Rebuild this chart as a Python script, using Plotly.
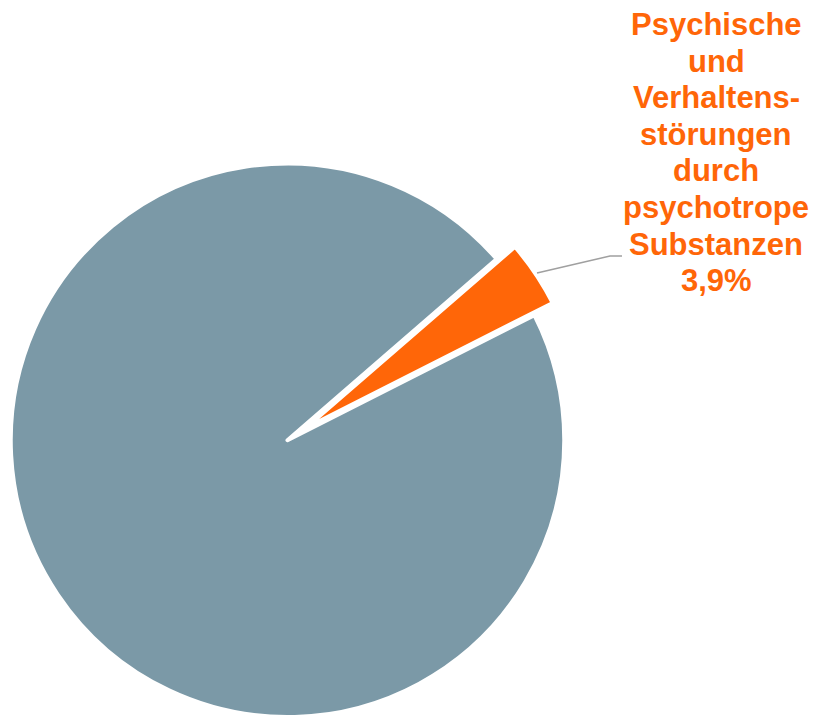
import math
import plotly.graph_objects as go

# ---- data ----
labels = ["Psychische und Verhaltensstörungen durch psychotrope Substanzen", "Sonstige"]
values = [3.9, 96.1]
label_lines = ["Psychische", "und", "Verhaltens-", "störungen", "durch",
               "psychotrope", "Substanzen", "3,9%"]

GRAY = "#7b99a7"
ORANGE = "#ff6608"
W, H = 816, 717

# ---- geometry (pixels) ----
cx, cy, r = 287.5, 440.25, 276.75
rotation = 49.1
mid_angle = 90 - rotation - values[0] / sum(values) * 360 / 2  # math angle of slice centre
shift = 22.0
cx2 = cx + shift * math.cos(math.radians(mid_angle))
cy2 = cy - shift * math.sin(math.radians(mid_angle))


def dom(cxp, cyp):
    return dict(x=[max(0, (cxp - r) / W), min(1, (cxp + r) / W)],
                y=[max(0, 1 - (cyp + r) / H), min(1, 1 - (cyp - r) / H)])


fig = go.Figure()
# base pie: grey slice, orange slot left empty
fig.add_trace(go.Pie(
    labels=labels, values=values, sort=False, direction="clockwise",
    rotation=rotation, domain=dom(cx, cy),
    marker=dict(colors=["rgba(0,0,0,0)", GRAY], line=dict(color="white", width=4)),
    textinfo="none", hoverinfo="label+percent", showlegend=False,
))
# exploded orange slice
fig.add_trace(go.Pie(
    labels=labels, values=values, sort=False, direction="clockwise",
    rotation=rotation, domain=dom(cx2, cy2),
    marker=dict(colors=[ORANGE, "rgba(0,0,0,0)"],
                line=dict(color=["white", "rgba(0,0,0,0)"], width=4)),
    textinfo="none", hoverinfo="label+percent", showlegend=False,
))

# leader line
pts = [(537, 273), (610, 256), (622, 256)]
path = "M " + " L ".join(f"{x / W:.5f},{1 - y / H:.5f}" for x, y in pts)
fig.add_shape(type="path", path=path, xref="paper", yref="paper",
              line=dict(color="#a0a0a0", width=1.6))

# label, one annotation per line
base0, step = 35.0, 36.6
for i, t in enumerate(label_lines):
    yb = base0 + step * i
    fig.add_annotation(x=716 / W, y=1 - (yb - 10.5) / H, xref="paper", yref="paper",
                       text=f"<b>{t}</b>", showarrow=False, xanchor="center",
                       yanchor="middle",
                       font=dict(family="Liberation Sans, Arial, sans-serif",
                                 size=31, color=ORANGE))

fig.update_layout(width=W, height=H, margin=dict(l=0, r=0, t=0, b=0),
                  paper_bgcolor="white", plot_bgcolor="white")

fig.write_html("out.html")
